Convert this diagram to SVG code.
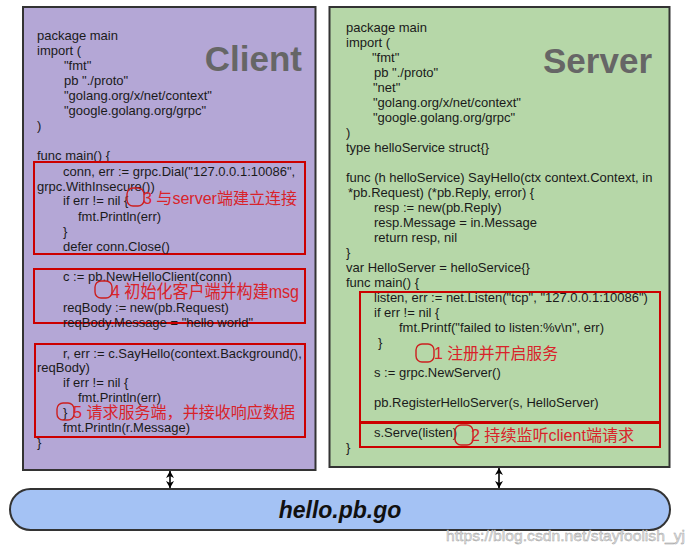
<svg xmlns="http://www.w3.org/2000/svg" width="696" height="550" viewBox="0 0 696 550">
<style>
.code{font-family:"Liberation Sans",Arial,Helvetica,sans-serif;font-size:13px;fill:#1a1a1a}
.title{font-family:"Liberation Sans",Arial,Helvetica,sans-serif;font-size:35px;font-weight:bold;fill:#666666;text-anchor:end}
.note{font-family:"Liberation Sans",Arial,"Noto Sans CJK SC",sans-serif;font-size:16px;fill:#d9232a}
.rbox{fill:none;stroke:#cc0000;stroke-width:2}
.mark{fill:none;stroke:#cc1f1f;stroke-width:1.4}
.panel{stroke:#333333;stroke-width:2}
.conn{stroke:#000;stroke-width:1.6;fill:none;marker-start:url(#ah);marker-end:url(#ah)}
</style>
<defs>
<marker id="ah" markerUnits="userSpaceOnUse" markerWidth="9" markerHeight="9" refX="7" refY="4.5" orient="auto-start-reverse">
<path d="M0,0.5 L7,4.5 L0,8.5 L2,4.5 z" fill="#000"/>
</marker>
</defs>
<rect width="696" height="550" fill="#ffffff"/>

<g id="client">
<rect class="panel" x="23" y="7" width="292.5" height="463" fill="#b4a7d6"/>
<text class="title" x="302" y="71">Client</text>
<text class="code" x="37" y="40">package main</text>
<text class="code" x="37" y="55">import (</text>
<text class="code" x="64" y="70">"fmt"</text>
<text class="code" x="64" y="85">pb "./proto"</text>
<text class="code" x="64" y="100">"golang.org/x/net/context"</text>
<text class="code" x="64" y="115">"google.golang.org/grpc"</text>
<text class="code" x="37" y="130">)</text>
<text class="code" x="37" y="160">func main() {</text>
</g>

<g id="step3">
<rect class="rbox" x="34" y="162" width="271" height="92"/>
<text class="code" x="63" y="176">conn, err := grpc.Dial("127.0.0.1:10086",</text>
<text class="code" x="37" y="191">grpc.WithInsecure())</text>
<text class="code" x="63" y="205">if err != nil {</text>
<text class="code" x="78" y="221">fmt.Println(err)</text>
<text class="code" x="63" y="236">}</text>
<text class="code" x="63" y="251">defer conn.Close()</text>
<rect class="mark" x="127" y="188" width="17" height="18" rx="6"/>
<text class="note" x="143" y="204" textLength="154" lengthAdjust="spacingAndGlyphs">3 与server端建立连接</text>
</g>

<g id="step4">
<rect class="rbox" x="34" y="269" width="271" height="54"/>
<text class="code" x="63" y="281">c := pb.NewHelloClient(conn)</text>
<rect class="mark" x="95" y="281" width="17" height="17" rx="6"/>
<text class="note" x="111" y="298" style="font-size:18px" textLength="188" lengthAdjust="spacingAndGlyphs">4 初始化客户端并构建msg</text>
<text class="code" x="63" y="312">reqBody := new(pb.Request)</text>
<text class="code" x="63" y="327">reqBody.Message = "hello world"</text>
</g>

<g id="step5">
<rect class="rbox" x="35" y="344" width="270" height="93"/>
<text class="code" x="63" y="358">r, err := c.SayHello(context.Background(),</text>
<text class="code" x="37" y="372">reqBody)</text>
<text class="code" x="63" y="387">if err != nil {</text>
<text class="code" x="78" y="402">fmt.Println(err)</text>
<text class="code" x="63" y="417">}</text>
<rect class="mark" x="57" y="403" width="17" height="17" rx="6"/>
<text class="note" x="73" y="418" textLength="222" lengthAdjust="spacingAndGlyphs">5 请求服务端，并接收响应数据</text>
<text class="code" x="63" y="432">fmt.Println(r.Message)</text>
<text class="code" x="37" y="447">}</text>
</g>

<g id="server">
<rect class="panel" x="329.5" y="7" width="340" height="460" fill="#b6d7a8"/>
<text class="title" x="652" y="73">Server</text>
<text class="code" x="346" y="32">package main</text>
<text class="code" x="346" y="47">import (</text>
<text class="code" x="372" y="62">"fmt"</text>
<text class="code" x="374" y="77">pb "./proto"</text>
<text class="code" x="373" y="92">"net"</text>
<text class="code" x="373" y="107">"golang.org/x/net/context"</text>
<text class="code" x="373" y="122">"google.golang.org/grpc"</text>
<text class="code" x="346" y="137">)</text>
<text class="code" x="346" y="152">type helloService struct{}</text>
<text class="code" x="346" y="182">func (h helloService) SayHello(ctx context.Context, in</text>
<text class="code" x="348" y="197">*pb.Request) (*pb.Reply, error) {</text>
<text class="code" x="374" y="212">resp := new(pb.Reply)</text>
<text class="code" x="374" y="227">resp.Message = in.Message</text>
<text class="code" x="374" y="242">return resp, nil</text>
<text class="code" x="346" y="257">}</text>
<text class="code" x="346" y="272">var HelloServer = helloService{}</text>
<text class="code" x="346" y="287">func main() {</text>
<text class="code" x="346" y="452">}</text>
</g>

<g id="step1">
<rect class="rbox" x="360" y="292" width="300" height="130"/>
<text class="code" x="374" y="302">listen, err := net.Listen("tcp", "127.0.0.1:10086")</text>
<text class="code" x="374" y="317">if err != nil {</text>
<text class="code" x="399" y="332">fmt.Printf("failed to listen:%v\n", err)</text>
<text class="code" x="378" y="347">}</text>
<rect class="mark" x="416" y="344" width="18" height="18" rx="6"/>
<text class="note" x="434" y="359" textLength="124" lengthAdjust="spacingAndGlyphs">1 注册并开启服务</text>
<text class="code" x="374" y="377">s := grpc.NewServer()</text>
<text class="code" x="374" y="407">pb.RegisterHelloServer(s, HelloServer)</text>
</g>

<g id="step2">
<rect class="rbox" x="360" y="423" width="300" height="24"/>
<text class="code" x="374" y="437">s.Serve(listen)</text>
<rect class="mark" x="455" y="425" width="18" height="20" rx="6"/>
<text class="note" x="471" y="441" textLength="163" lengthAdjust="spacingAndGlyphs">2 持续监听client端请求</text>
</g>

<g id="hello-pb-go">
<rect x="10" y="489" width="660" height="41" rx="20.5" fill="#a4c2f4" stroke="#333333" stroke-width="2"/>
<text x="340" y="518" text-anchor="middle" font-family="'Liberation Sans',Arial,Helvetica,sans-serif" font-size="23" font-weight="bold" font-style="italic" fill="#111">hello.pb.go</text>
</g>

<g id="connectors">
<line class="conn" x1="170" y1="471" x2="170" y2="488"/>
<line class="conn" x1="499" y1="468" x2="499" y2="488"/>
</g>

<text x="446" y="541" font-family="'Liberation Sans',Arial,sans-serif" font-size="15.5" fill="#e4e4e4" stroke="#9a9a9a" stroke-width="0.4" textLength="239" lengthAdjust="spacingAndGlyphs">https://blog.csdn.net/stayfoolish_yj</text>
</svg>
